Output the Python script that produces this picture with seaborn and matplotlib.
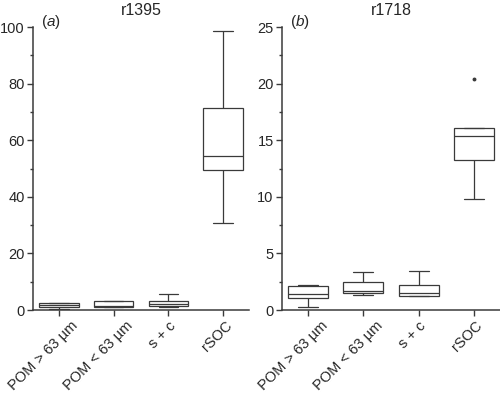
import pandas as pd
import matplotlib.pyplot as plt
import matplotlib.transforms as mtransforms
import seaborn as sns
from matplotlib.ticker import MultipleLocator

# categories on the x axis
fractions = ["POM > 63 µm", "POM < 63 µm", "s + c", "rSOC"]

r1395_pom_gt = [0.3, 1.05, 1.8, 2.4, 2.6]
r1395_pom_lt = [1.1, 1.2, 1.6, 3.1, 3.1]
r1395_sc = [1.2, 1.4, 2.1, 3.3, 5.8]
r1395_rsoc = [30.8, 49.4, 54.5, 71.3, 98.8]

r1718_pom_gt = [0.27, 1.09, 1.39, 2.12, 2.22]
r1718_pom_lt = [1.33, 1.47, 1.65, 2.45, 3.36]
r1718_sc = [1.22, 1.24, 1.53, 2.24, 3.42]
r1718_rsoc = [9.78, 13.28, 15.34, 16.05, 20.4]


def long_form(groups):
    rows = []
    for name, vals in zip(fractions, groups):
        for v in vals:
            rows.append({"fraction": name, "value": v})
    return pd.DataFrame(rows)


df_a = long_form([r1395_pom_gt, r1395_pom_lt, r1395_sc, r1395_rsoc])
df_b = long_form([r1718_pom_gt, r1718_pom_lt, r1718_sc, r1718_rsoc])

sns.set_style("ticks")
plt.rcParams['font.family'] = ['Liberation Sans', 'DejaVu Sans']
plt.rcParams['mathtext.fontset'] = 'custom'
plt.rcParams['mathtext.it'] = 'Liberation Sans:italic'
plt.rcParams['mathtext.rm'] = 'Liberation Sans'

fig = plt.figure(figsize=(5, 3.94), dpi=100)
ax_a = fig.add_axes([0.066, 0.213, 0.432, 0.718])
ax_b = fig.add_axes([0.564, 0.213, 0.436, 0.718])
renderer = fig.canvas.get_renderer()

edge = "#3a3a3a"
panels = [
    (ax_a, df_a, "r1395", "a", 100, 20),
    (ax_b, df_b, "r1718", "b", 25, 5),
]
for ax, df, title, tag, ymax, step in panels:
    sns.boxplot(data=df, x="fraction", y="value", ax=ax, width=0.72,
                color="white", linecolor=edge, linewidth=0.9,
                flierprops=dict(marker="o", markersize=1.8,
                                markerfacecolor=edge, markeredgecolor=edge))
    ax.set_ylim(0, ymax)
    ax.set_xlim(-0.47, 3.47)
    ax.yaxis.set_major_locator(MultipleLocator(step))
    ax.yaxis.set_minor_locator(MultipleLocator(step / 2))
    ax.set_xlabel("")
    ax.set_ylabel("")
    sns.despine(ax=ax)
    for sp in ["left", "bottom"]:
        ax.spines[sp].set_color(edge)
        ax.spines[sp].set_linewidth(1.1)
    ax.tick_params(axis="both", which="major", length=4, width=1,
                   color=edge, pad=2)
    ax.tick_params(axis="y", labelsize=10.5)
    ax.tick_params(axis="y", which="minor", length=2.5, width=1, color=edge)
    ax.set_xticks(range(len(fractions)))
    ax.set_xticklabels(fractions, rotation=45, ha="right", va="top",
                       rotation_mode="anchor", fontsize=10.5)
    # labels sit so that longer ones reach further right of the tick
    for lab in ax.get_xticklabels():
        w, h, d = renderer.get_text_width_height_descent(
            lab.get_text(), lab.get_fontproperties(), ismath=False)
        dx = (0.2 * w - 6.0) / fig.dpi
        lab.set_transform(lab.get_transform() +
                          mtransforms.ScaledTranslation(dx, 0.0, fig.dpi_scale_trans))
    ax.set_title(title, fontsize=11.5, pad=9)
    ax.text(0.037, 1.018, "($\\it{" + tag + "}$)", transform=ax.transAxes,
            fontsize=11, va="center", ha="left")

plt.savefig("out.png", dpi=100)
